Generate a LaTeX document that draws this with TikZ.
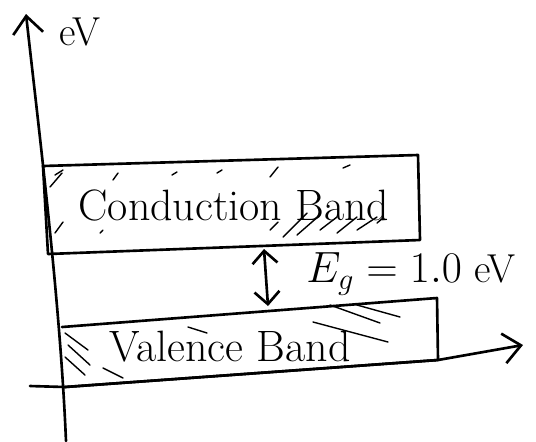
\documentclass[tikz,border=0pt]{standalone}
\usetikzlibrary{arrows.meta}

\tikzset{
  pen/.style={line width=1.5pt, line cap=round, line join=round},
  hatch/.style={line width=0.8pt, line cap=round},
  label/.style={font=\fontsize{23}{27}\selectfont, inner sep=0pt},
  bandlabel/.style={font=\fontsize{25}{29}\selectfont, inner sep=0pt},
  barb/.style={-{Straight Barb[length=3.5mm,width=6mm]}}
}

\begin{document}
\begin{tikzpicture}[x=0.02cm,y=-0.02cm]
  \useasboundingbox (0,0) rectangle (536,441);
  % axes
  \coordinate (ybot) at (66,441);
  \coordinate (ytop) at (26,14);
  \coordinate (xleft) at (30,386);
  \coordinate (xright) at (523,345);
  \draw[pen,barb] (ybot) .. controls (60,300) and (40,140) .. (ytop);
  \draw[pen,barb] (xleft) -- (65,387) -- (438,360) -- (xright);
  \node[label] (unit) at (80,32) {eV};
  % conduction band
  \draw[pen] (43,166) -- (418,155) -- (420,240) -- (48,254) -- cycle;
  \node[bandlabel] (cb) at (234,205) {Conduction Band};
  \foreach \a/\b/\c/\d in {55/175/63/170, 50/187/62/173, 55/233/63/222,
      100/233/103/230, 113/180/118/173, 172/175/177/172, 217/173/222/170,
      270/177/278/167, 343/168/350/165, 270/230/278/222, 283/237/307/213,
      297/235/320/215, 320/230/337/217, 337/233/357/217, 357/230/377/217,
      377/223/383/218}
    \draw[hatch] (\a,\b) -- (\c,\d);
  % valence band
  \draw[pen] (62,327) -- (437,298) -- (438,360) -- (65,387);
  \node[bandlabel] (vb) at (230,347) {Valence Band};
  \foreach \a/\b/\c/\d in {65/333/88/350, 68/345/90/365, 65/357/85/375,
      103/368/123/378, 188/327/207/333, 330/305/380/323, 357/305/400/317,
      313/322/388/342}
    \draw[hatch] (\a,\b) -- (\c,\d);
  % band gap
  \coordinate (cbedge) at (264,249);
  \coordinate (vbedge) at (268,306);
  \draw[pen,{Straight Barb[length=2.5mm,width=5mm]}-{Straight Barb[length=2.5mm,width=5mm]}]
    (cbedge) -- (vbedge);
  \node[label,anchor=west] (gap) at (306,274) {$E_g = 1.0$ eV};
\end{tikzpicture}
\end{document}
